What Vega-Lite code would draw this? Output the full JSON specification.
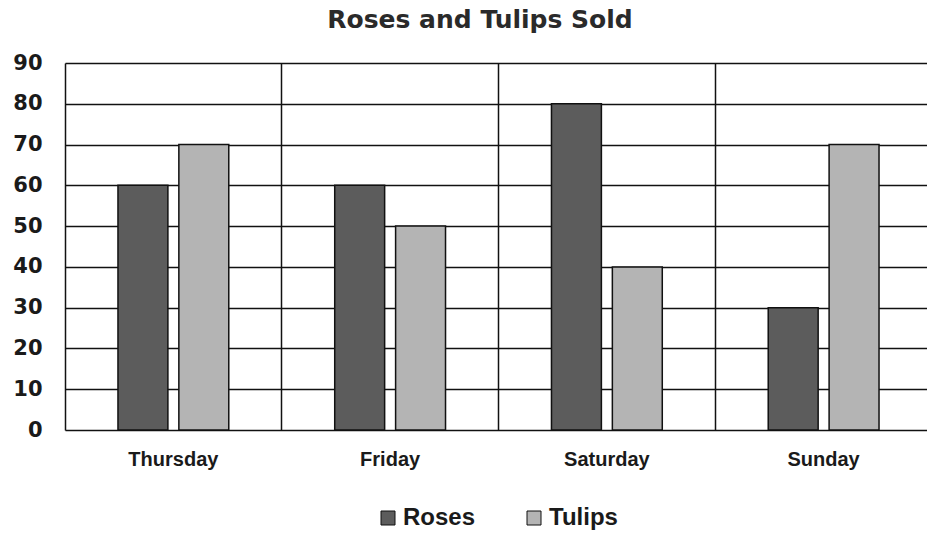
{
  "$schema": "https://vega.github.io/schema/vega-lite/v6.json",
  "width": 862,
  "height": 367,
  "autosize": {"type": "none"},
  "padding": {"left": 65, "top": 63, "right": 0, "bottom": 108},
  "background": "white",
  "title": {
    "text": "Roses and Tulips Sold",
    "font": "DejaVu Sans",
    "fontSize": 25,
    "fontWeight": "bold",
    "color": "#2a2a2a",
    "anchor": "middle",
    "dx": -16,
    "offset": 19
  },
  "data": {
    "values": [
      {"day": "Thursday", "flower": "Roses", "sold": 60},
      {"day": "Thursday", "flower": "Tulips", "sold": 70},
      {"day": "Friday", "flower": "Roses", "sold": 60},
      {"day": "Friday", "flower": "Tulips", "sold": 50},
      {"day": "Saturday", "flower": "Roses", "sold": 80},
      {"day": "Saturday", "flower": "Tulips", "sold": 40},
      {"day": "Sunday", "flower": "Roses", "sold": 30},
      {"day": "Sunday", "flower": "Tulips", "sold": 70}
    ]
  },
  "mark": {"type": "bar", "stroke": "#111111", "strokeWidth": 1.5},
  "encoding": {
    "x": {
      "field": "day",
      "type": "nominal",
      "sort": ["Thursday", "Friday", "Saturday", "Sunday"],
      "scale": {"paddingInner": 0, "paddingOuter": 0, "range": [0, 867]},
      "axis": {
        "title": null,
        "labelAngle": 0,
        "domain": false,
        "ticks": false,
        "grid": true,
        "bandPosition": 0,
        "gridColor": "#111111",
        "gridWidth": 1.5,
        "gridOpacity": 1,
        "labelFont": "Liberation Sans",
        "labelFontSize": 20,
        "labelFontWeight": "bold",
        "labelColor": "#1a1a1a",
        "labelPadding": 19
      }
    },
    "xOffset": {
      "field": "flower",
      "type": "nominal",
      "scale": {"paddingInner": 0.18, "paddingOuter": 0.87}
    },
    "y": {
      "field": "sold",
      "type": "quantitative",
      "scale": {"domain": [0, 90], "nice": false},
      "axis": {
        "title": null,
        "values": [0, 10, 20, 30, 40, 50, 60, 70, 80, 90],
        "domain": false,
        "ticks": false,
        "grid": true,
        "gridColor": "#111111",
        "gridWidth": 1.5,
        "gridOpacity": 1,
        "labelFont": "DejaVu Sans",
        "labelFontSize": 21,
        "labelFontWeight": "bold",
        "labelColor": "#1a1a1a",
        "labelPadding": 23
      }
    },
    "fill": {
      "field": "flower",
      "type": "nominal",
      "scale": {"domain": ["Roses", "Tulips"], "range": ["#5c5c5c", "#b4b4b4"]},
      "legend": {
        "title": null,
        "orient": "none",
        "direction": "horizontal",
        "legendX": 311,
        "legendY": 443,
        "symbolType": "square",
        "symbolSize": 196,
        "symbolStrokeColor": "#111111",
        "symbolStrokeWidth": 1,
        "labelFont": "Liberation Sans",
        "labelFontSize": 24,
        "labelFontWeight": "bold",
        "labelColor": "#1a1a1a",
        "labelOffset": 3,
        "columnPadding": 46
      }
    }
  },
  "config": {"view": {"stroke": null}}
}
